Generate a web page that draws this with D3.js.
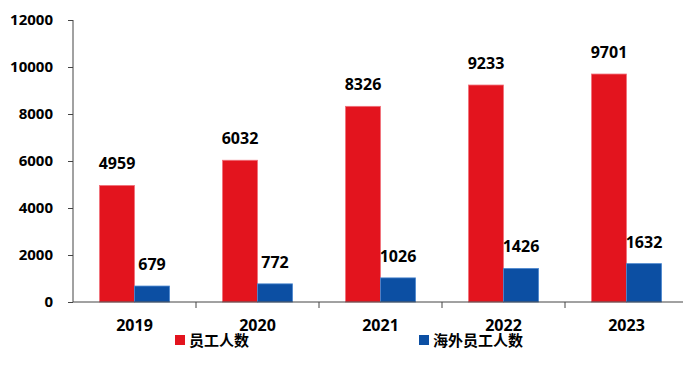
<!DOCTYPE html>
<html>
<head>
<meta charset="utf-8">
<script src="https://cdn.jsdelivr.net/npm/d3@7/dist/d3.min.js"></script>
<style>
  html, body { margin: 0; padding: 0; background: #fff; }
  svg { display: block; }
  text { font-family: "Open Sans", "Noto Sans CJK SC", sans-serif; font-weight: 700; fill: #000; }
  .cjk { font-family: "Noto Sans CJK SC", sans-serif; }
</style>
</head>
<body>
<svg id="chart" width="683" height="370"></svg>
<script>
// Yearly headcount: total staff and overseas staff
const years = ["2019", "2020", "2021", "2022", "2023"];
const staffTotal = [4959, 6032, 8326, 9233, 9701];
const staffOverseas = [679, 772, 1026, 1426, 1632];
const seriesNames = ["员工人数", "海外员工人数"];
const seriesColors = ["#E3141E", "#0C4FA3"];
const seriesStrokes = ["#F0707A", "#4A86CF"];
const yTicks = [0, 2000, 4000, 6000, 8000, 10000, 12000];

const svg = d3.select("#chart");
const margin = { left: 73, top: 20, bottom: 302, right: 688 };

const x = d3.scaleBand().domain(years).range([margin.left, margin.right]);
const y = d3.scaleLinear().domain([0, 12000]).range([margin.bottom, margin.top]);

const barW = 35;
const series = [staffTotal, staffOverseas];

// Bars
series.forEach((vals, si) => {
  const g = svg.append("g");
  g.selectAll("rect").data(years).join("rect")
    .attr("x", d => x(d) + x.bandwidth() / 2 - barW + si * barW)
    .attr("y", (d, i) => y(vals[i]))
    .attr("width", barW)
    .attr("height", (d, i) => y(0) - y(vals[i]))
    .attr("fill", seriesColors[si])
    .attr("stroke", seriesStrokes[si])
    .attr("stroke-width", 0.8);
  g.selectAll("text").data(years).join("text")
    .attr("x", d => x(d) + x.bandwidth() / 2 - barW / 2 + si * barW)
    .attr("y", (d, i) => y(vals[i]) - 16)
    .attr("text-anchor", "middle")
    .attr("font-size", 16)
    .text((d, i) => vals[i]);
});

// Y axis
const yAxis = svg.append("g")
  .attr("transform", `translate(${margin.left},0)`)
  .call(d3.axisLeft(y).tickValues(yTicks).tickSize(5).tickPadding(15).tickFormat(d3.format("d")));
yAxis.select(".domain").attr("stroke", "#444").attr("d", `M0,${margin.top}V${margin.bottom}`);
yAxis.selectAll(".tick line").attr("stroke", "#444");
yAxis.selectAll(".tick text").attr("font-size", 15).attr("fill", "#000");

// X axis with ticks between categories
const xAxis = svg.append("g")
  .attr("transform", `translate(0,${margin.bottom})`);
xAxis.append("line")
  .attr("x1", margin.left).attr("x2", margin.right)
  .attr("stroke", "#444");
xAxis.selectAll("line.sep").data(years.slice(1)).join("line")
  .attr("class", "sep")
  .attr("x1", d => x(d)).attr("x2", d => x(d))
  .attr("y1", 0).attr("y2", 6)
  .attr("stroke", "#444");
xAxis.selectAll("text").data(years).join("text")
  .attr("x", d => x(d) + x.bandwidth() / 2)
  .attr("y", 29)
  .attr("text-anchor", "middle")
  .attr("font-size", 16)
  .text(d => d);

// Legend
const legendX = [175, 419];
const legend = svg.append("g");
seriesNames.forEach((name, i) => {
  legend.append("rect")
    .attr("x", legendX[i]).attr("y", 335)
    .attr("width", 10).attr("height", 10)
    .attr("fill", seriesColors[i]);
  legend.append("text")
    .attr("class", "cjk")
    .attr("x", legendX[i] + 14).attr("y", 346)
    .attr("font-size", 15)
    .text(name);
});
</script>
</body>
</html>
